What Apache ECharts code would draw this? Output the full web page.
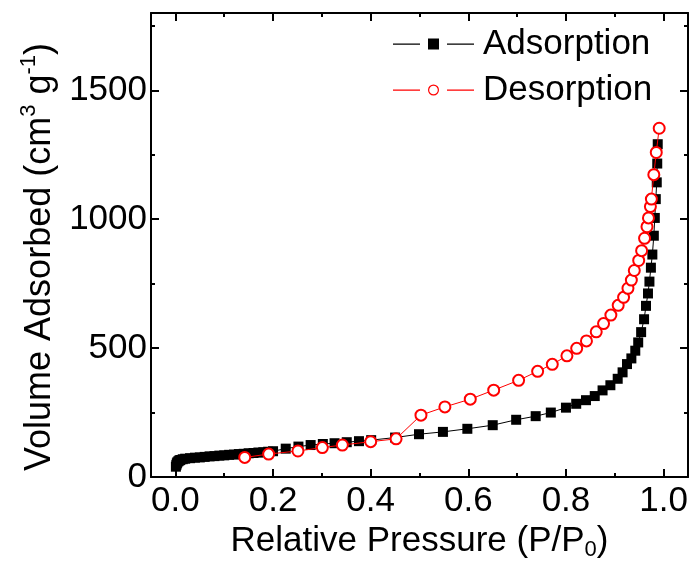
<!DOCTYPE html>
<html>
<head>
<meta charset="utf-8">
<script src="https://cdn.jsdelivr.net/npm/echarts@6/dist/echarts.min.js"></script>
<style>
html,body{margin:0;padding:0;background:#fff;}
#chart{width:694px;height:569px;}
</style>
</head>
<body>
<div id="chart"></div>
<script>
// ---- data ----
const adsorptionP = [0.001,0.002,0.003,0.004,0.006,0.008,0.010,0.015,0.020,0.030,0.040,0.050,0.060,0.070,0.080,0.090,0.100,0.110,0.120,0.130,0.140,0.150,0.160,0.170,0.180,0.190,0.200,
  0.226,0.252,0.277,0.302,0.326,0.351,0.376,0.401,0.450,0.499,0.548,0.598,0.650,0.698,0.738,0.769,0.800,0.821,0.841,0.859,0.875,0.891,0.906,0.916,0.925,0.934,0.942,0.948,0.954,0.960,0.964,0.968,0.971,0.974,0.977,0.980,0.982,0.984,0.986,0.987,0.988];
const adsorptionV = [40,47,53,57,61,64,66,69,71,73,75,76,78,80,81,83,84,86,87,89,90,92,93,95,96,98,100,
  110,118,124,128,131,135,139,143,153,166,175,187,201,222,236,250,269,284,298,314,336,356,381,406,438,460,490,522,562,612,664,712,758,812,863,936,1005,1078,1143,1216,1291];
const desorptionP = [0.142,0.191,0.251,0.301,0.342,0.400,0.452,0.503,0.552,0.604,0.652,0.703,0.742,0.772,0.802,0.822,0.842,0.862,0.877,0.892,0.907,0.918,0.927,0.934,0.940,0.949,0.955,0.961,0.966,0.969,0.973,0.975,0.980,0.985,0.991];
const desorptionV = [76,89,101,114,124,137,148,240,272,302,337,375,410,437,470,499,528,563,595,628,666,697,732,764,801,840,878,926,971,1005,1049,1078,1173,1259,1353];
const xMajorTicks = [0,0.2,0.4,0.6,0.8,1.0];
const xMinorTicks = [0.1,0.3,0.5,0.7,0.9];
const yMajorTicks = [0,500,1000,1500];
const yMinorTicks = [250,750,1250,1750];
const seriesNames = ['Adsorption','Desorption'];

// ---- chart ----
const FONT = "'Liberation Sans', Arial, Helvetica, sans-serif";
const FS = 35;
const chart = echarts.init(document.getElementById('chart'), null, {renderer:'canvas'});

function xAxisDef(pos, ticks, len, withLine, withLabels, extra) {
  return Object.assign({
    type:'value', position:pos, min:-0.05, max:1.05,
    axisLine:{show:withLine, onZero:false, lineStyle:{color:'#000', width:2}},
    axisTick:{show:true, inside:true, length:len, customValues:ticks, lineStyle:{color:'#000', width:2}},
    axisLabel:withLabels ? {show:true, customValues:ticks, formatter:v=>v.toFixed(1), color:'#000', fontFamily:FONT, fontSize:FS, margin:7}
                         : {show:false},
    splitLine:{show:false}, minorTick:{show:false}
  }, extra || {});
}
function yAxisDef(pos, ticks, len, withLine, withLabels, extra) {
  return Object.assign({
    type:'value', position:pos, min:0, max:1800,
    axisLine:{show:withLine, onZero:false, lineStyle:{color:'#000', width:2}},
    axisTick:{show:true, inside:true, length:len, customValues:ticks, lineStyle:{color:'#000', width:2}},
    axisLabel:withLabels ? {show:true, customValues:ticks, formatter:v=>String(v), color:'#000', fontFamily:FONT, fontSize:FS, margin:4}
                         : {show:false},
    splitLine:{show:false}, minorTick:{show:false}
  }, extra || {});
}

const icoAds = 'path://M0,5h27v1.2h-27z M35,0h11v11h-11z M54,5h27v1.2h-27z';
const icoDes = 'path://M0,5h27v1.2h-27z M35,5.5a5.5,5.5 0 1,0 11,0a5.5,5.5 0 1,0 -11,0z M36.2,5.5a4.3,4.3 0 1,1 8.6,0a4.3,4.3 0 1,1 -8.6,0z M54,5h27v1.2h-27z M0,0h0.01v0.01h-0.01z M0,11h0.01v-0.01h-0.01z';

const option = {
  animation:false,
  backgroundColor:'#fff',
  grid:{left:151, right:6, top:13, bottom:92, containLabel:false},
  legend:{
    orient:'vertical', left:393, top:24, padding:0, itemGap:6,
    itemWidth:81, itemHeight:11, selectedMode:false,
    itemStyle:{borderWidth:0},
    textStyle:{color:'#000', fontFamily:FONT, fontSize:FS, lineHeight:40, padding:[0,0,0,4]},
    data:[
      {name:seriesNames[0], icon:icoAds, itemStyle:{color:'#000', borderWidth:0}},
      {name:seriesNames[1], icon:icoDes, itemStyle:{color:'#ff0000', borderWidth:0}}
    ]
  },
  xAxis:[
    xAxisDef('bottom', xMajorTicks, 8, true, true, {
      name:'{n|Relative Pressure (P/P}{sub|0}{n|)}', nameLocation:'middle', nameGap:44,
      nameTextStyle:{rich:{
        n:{fontFamily:FONT, fontSize:FS, color:'#000', lineHeight:40},
        sub:{fontFamily:FONT, fontSize:22, color:'#000', verticalAlign:'bottom', lineHeight:40, padding:[14,0,0,0]}
      }}
    }),
    xAxisDef('bottom', xMinorTicks, 4, false, false),
    xAxisDef('top', xMajorTicks, 8, true, false),
    xAxisDef('top', xMinorTicks, 4, false, false)
  ],
  yAxis:[
    yAxisDef('left', yMajorTicks, 8, true, true, {
      name:'{n|Volume Adsorbed (cm}{sup|3}{n| g}{sup|-1}{n|)}', nameLocation:'middle', nameGap:68, nameRotate:90,
      nameTextStyle:{padding:[0,24,0,0], rich:{
        n:{fontFamily:FONT, fontSize:36, color:'#000', lineHeight:44},
        sup:{fontFamily:FONT, fontSize:22, color:'#000', verticalAlign:'top', lineHeight:22}
      }}
    }),
    yAxisDef('left', yMinorTicks, 4, false, false),
    yAxisDef('right', yMajorTicks, 8, true, false),
    yAxisDef('right', yMinorTicks, 4, false, false)
  ],
  series:[
    {
      name:seriesNames[0], type:'line', xAxisIndex:0, yAxisIndex:0,
      data:adsorptionP.map((p,i)=>[p, adsorptionV[i]]),
      symbol:'rect', symbolSize:10, showAllSymbol:true,
      itemStyle:{color:'#000'}, lineStyle:{color:'#000', width:1}, z:2
    },
    {
      name:seriesNames[1], type:'line', xAxisIndex:0, yAxisIndex:0,
      data:desorptionP.map((p,i)=>[p, desorptionV[i]]),
      symbol:'emptyCircle', symbolSize:11, showAllSymbol:true,
      itemStyle:{color:'#ff0000', borderWidth:1.2}, lineStyle:{color:'#ff0000', width:1}, z:3
    }
  ]
};
chart.setOption(option);
</script>
</body>
</html>
